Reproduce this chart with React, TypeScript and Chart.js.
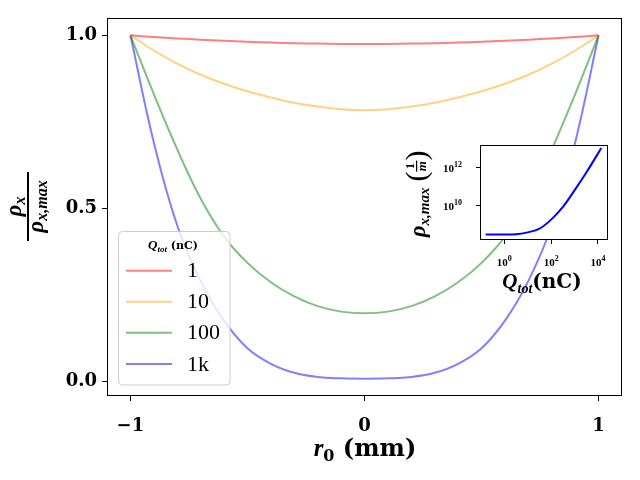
import { useEffect, useRef } from "react";
import Chart from "chart.js/auto";

// main plot: normalised rho_x across r0 for each total charge
const radius = [-1, -0.9, -0.8, -0.7, -0.6, -0.5, -0.4, -0.3, -0.2, -0.1, 0, 0.1, 0.2, 0.3, 0.4, 0.5, 0.6, 0.7, 0.8, 0.9, 1];
const rhoQ1 = [1.0, 0.995, 0.991, 0.987, 0.984, 0.981, 0.979, 0.977, 0.976, 0.975, 0.975, 0.975, 0.976, 0.977, 0.979, 0.981, 0.984, 0.987, 0.991, 0.995, 1.0];
const rhoQ10 = [1.0, 0.956, 0.918, 0.886, 0.86, 0.838, 0.82, 0.805, 0.794, 0.786, 0.783, 0.786, 0.794, 0.805, 0.82, 0.838, 0.86, 0.886, 0.918, 0.956, 1.0];
const rhoQ100 = [1.0, 0.83, 0.67, 0.528, 0.418, 0.342, 0.286, 0.245, 0.217, 0.201, 0.196, 0.201, 0.217, 0.245, 0.286, 0.342, 0.418, 0.528, 0.67, 0.83, 1.0];
const rhoQ1k = [1.0, 0.69, 0.45, 0.29, 0.175, 0.095, 0.05, 0.024, 0.012, 0.008, 0.007, 0.008, 0.012, 0.024, 0.05, 0.095, 0.175, 0.29, 0.45, 0.69, 1.0];
const seriesLabels = ["1", "10", "100", "1k"];
const seriesColors = ["rgba(255,0,0,0.5)", "rgba(255,165,0,0.5)", "rgba(0,128,0,0.5)", "rgba(0,0,255,0.5)"];
const xTicks = [-1, 0, 1];
const yTicks = [0, 0.5, 1];

// inset: rho_x,max against Q_tot (log-log)
const chargeNc = [0.158, 0.32, 1, 3.2, 10, 32, 100, 320, 1000, 3200, 10000, 14100];
const rhoMax = [2.9e8, 2.9e8, 2.9e8, 3.0e8, 3.8e8, 6.0e8, 1.8e9, 8.5e9, 6.3e10, 5.6e11, 5.6e12, 1.12e13];
const insetXTicks = [1, 100, 10000];
const insetYTicks = [1e10, 1e12];

const SERIF = '"DejaVu Serif"';
const MATH = '"Liberation Serif"';

type Run = { text: string; font: string; dy?: number };

function drawRuns(ctx: CanvasRenderingContext2D, runs: Run[], x: number, y: number, align: "left" | "center" | "right") {
  let total = 0;
  for (const r of runs) {
    ctx.font = r.font;
    total += ctx.measureText(r.text).width;
  }
  let cx = align === "center" ? x - total / 2 : align === "right" ? x - total : x;
  ctx.textAlign = "left";
  ctx.textBaseline = "alphabetic";
  for (const r of runs) {
    ctx.font = r.font;
    ctx.fillText(r.text, cx, y + (r.dy || 0));
    cx += ctx.measureText(r.text).width;
  }
  return total;
}

function runsWidth(ctx: CanvasRenderingContext2D, runs: Run[]) {
  let w = 0;
  for (const r of runs) {
    ctx.font = r.font;
    w += ctx.measureText(r.text).width;
  }
  return w;
}

function frame(ctx: CanvasRenderingContext2D, a: any) {
  ctx.strokeStyle = "#000";
  ctx.lineWidth = 1;
  ctx.strokeRect(Math.round(a.left) + 0.5, Math.round(a.top) + 0.5, Math.round(a.right - a.left) - 1, Math.round(a.bottom - a.top) - 1);
}

const mainDecor = {
  id: "mainDecor",
  afterDraw(chart: any) {
    const { ctx, chartArea: a } = chart;
    ctx.save();
    frame(ctx, a);
    ctx.fillStyle = "#000";

    // x title
    drawRuns(
      ctx,
      [
        { text: "r", font: `italic bold 25px ${MATH}` },
        { text: "0", font: `bold 16px ${SERIF}`, dy: 5 },
        { text: " (mm)", font: `bold 24px ${SERIF}` },
      ],
      365,
      456,
      "center"
    );

    // y title: rho_x over rho_x,max, rotated
    ctx.save();
    ctx.translate(28, 206.5);
    ctx.rotate(-Math.PI / 2);
    const num: Run[] = [
      { text: "ρ", font: `italic bold 23px ${MATH}` },
      { text: "x", font: `italic bold 16px ${MATH}`, dy: 4 },
    ];
    const den: Run[] = [
      { text: "ρ", font: `italic bold 23px ${MATH}` },
      { text: "x,max", font: `italic bold 16px ${MATH}`, dy: 4 },
    ];
    drawRuns(ctx, num, 0, -7, "center");
    drawRuns(ctx, den, 0, 15, "center");
    ctx.fillRect(-34.5, -1, 69, 2);
    ctx.restore();

    // legend
    const bx = 118.5, by = 231.5, bw = 111.5, bh = 153.5;
    ctx.beginPath();
    ctx.roundRect(bx, by, bw, bh, 4);
    ctx.fillStyle = "rgba(255,255,255,0.8)";
    ctx.fill();
    ctx.strokeStyle = "#cccccc";
    ctx.lineWidth = 1;
    ctx.stroke();
    ctx.fillStyle = "#000";
    drawRuns(
      ctx,
      [
        { text: "Q", font: `italic bold 13px ${MATH}` },
        { text: "tot", font: `italic bold 9px ${MATH}`, dy: 3 },
        { text: " (nC)", font: `bold 11px ${SERIF}` },
      ],
      173,
      249,
      "center"
    );
    const rowY = [270.7, 301.7, 332.7, 364];
    chart.data.datasets.forEach((ds: any, i: number) => {
      ctx.strokeStyle = ds.borderColor;
      ctx.lineWidth = 2;
      ctx.beginPath();
      ctx.moveTo(126, rowY[i]);
      ctx.lineTo(172, rowY[i]);
      ctx.stroke();
      ctx.fillStyle = "#000";
      ctx.font = `22px ${MATH}`;
      ctx.textAlign = "left";
      ctx.textBaseline = "middle";
      ctx.fillText(ds.label, 187, rowY[i] + 1);
    });
    ctx.restore();
  },
};

const insetDecor = {
  id: "insetDecor",
  beforeDatasetsDraw(chart: any) {
    const { ctx, chartArea: a } = chart;
    ctx.save();
    ctx.fillStyle = "#fff";
    ctx.fillRect(a.left, a.top, a.right - a.left, a.bottom - a.top);
    ctx.restore();
  },
  afterDraw(chart: any) {
    const { ctx, chartArea: a, scales } = chart;
    ctx.save();
    frame(ctx, a);
    ctx.fillStyle = "#000";

    insetXTicks.forEach((v) => {
      const px = scales.x.getPixelForValue(v);
      drawRuns(
        ctx,
        [
          { text: "10", font: `bold 11px ${MATH}` },
          { text: String(Math.round(Math.log10(v))), font: `bold 8px ${MATH}`, dy: -5 },
        ],
        px,
        131,
        "center"
      );
    });
    insetYTicks.forEach((v) => {
      const py = scales.y.getPixelForValue(v);
      drawRuns(
        ctx,
        [
          { text: "10", font: `bold 11px ${MATH}` },
          { text: String(Math.round(Math.log10(v))), font: `bold 8px ${MATH}`, dy: -5 },
        ],
        67,
        py + 4,
        "right"
      );
    });

    // x title
    drawRuns(
      ctx,
      [
        { text: "Q", font: `italic bold 21px ${MATH}` },
        { text: "tot", font: `italic bold 14px ${MATH}`, dy: 5 },
        { text: "(nC)", font: `bold 20px ${SERIF}` },
      ],
      147,
      153,
      "center"
    );

    // y title rotated
    ctx.save();
    ctx.translate(25, 59);
    ctx.rotate(-Math.PI / 2);
    const lab: Run[] = [
      { text: "ρ", font: `italic bold 23px ${MATH}` },
      { text: "x,max", font: `italic bold 15px ${MATH}`, dy: 4 },
    ];
    const labW = runsWidth(ctx, lab);
    ctx.font = `30px ${MATH}`;
    const parW = ctx.measureText("(").width;
    const fracW = 11;
    const total = labW + 6 + parW * 2 + fracW;
    let u = -total / 2;
    drawRuns(ctx, lab, u, 5, "left");
    u += labW + 6;
    ctx.font = `30px ${MATH}`;
    ctx.textAlign = "left";
    ctx.textBaseline = "alphabetic";
    ctx.fillText("(", u, 6);
    u += parW;
    ctx.fillRect(u, -4, fracW, 1.2);
    ctx.font = `bold 12px ${MATH}`;
    ctx.textAlign = "center";
    ctx.fillText("1", u + fracW / 2, -6);
    ctx.font = `italic bold 13px ${MATH}`;
    ctx.fillText("m", u + fracW / 2, 6);
    u += fracW;
    ctx.font = `30px ${MATH}`;
    ctx.textAlign = "left";
    ctx.fillText(")", u, 6);
    ctx.restore();

    ctx.restore();
  },
};

function MainChart() {
  const canvasRef = useRef<HTMLCanvasElement>(null);

  useEffect(() => {
    if (!canvasRef.current) return;
    const values = [rhoQ1, rhoQ10, rhoQ100, rhoQ1k];
    const chart = new Chart(canvasRef.current, {
      type: "line",
      data: {
        datasets: values.map((vals, i) => ({
          label: seriesLabels[i],
          data: radius.map((r, j) => ({ x: r, y: vals[j] })),
          borderColor: seriesColors[i],
          borderWidth: 2,
          pointRadius: 0,
          tension: 0.4,
        })),
      },
      options: {
        animation: false,
        responsive: false,
        devicePixelRatio: 1,
        layout: { padding: { left: 0, top: 18, right: 18, bottom: 0 } },
        plugins: { legend: { display: false }, tooltip: { enabled: false } },
        scales: {
          x: {
            type: "linear",
            min: -1.1,
            max: 1.1,
            afterBuildTicks: (s: any) => {
              s.ticks = xTicks.map((v) => ({ value: v }));
            },
            afterFit: (s: any) => {
              s.height = 84;
            },
            grid: { drawOnChartArea: false, drawTicks: true, tickLength: 5, color: "#000" },
            border: { display: false },
            ticks: {
              color: "#000",
              padding: 15,
              maxRotation: 0,
              font: { family: "DejaVu Serif", size: 18, weight: "bold" },
              callback: (v: any) => (v < 0 ? "\u2212" + Math.abs(v) : String(v)),
            },
          },
          y: {
            type: "linear",
            min: -0.043,
            max: 1.05,
            afterBuildTicks: (s: any) => {
              s.ticks = yTicks.map((v) => ({ value: v }));
            },
            afterFit: (s: any) => {
              s.width = 107;
            },
            grid: { drawOnChartArea: false, drawTicks: true, tickLength: 5, color: "#000" },
            border: { display: false },
            ticks: {
              color: "#000",
              padding: 5,
              font: { family: "DejaVu Serif", size: 18, weight: "bold" },
              callback: (v: any) => Number(v).toFixed(1),
            },
          },
        },
      },
      plugins: [mainDecor],
    });
    return () => chart.destroy();
  }, []);

  return <canvas ref={canvasRef} width={640} height={480} style={{ position: "absolute", left: 0, top: 0 }} />;
}

function InsetChart() {
  const canvasRef = useRef<HTMLCanvasElement>(null);

  useEffect(() => {
    if (!canvasRef.current) return;
    const chart = new Chart(canvasRef.current, {
      type: "line",
      data: {
        datasets: [
          {
            data: chargeNc.map((q, i) => ({ x: q, y: rhoMax[i] })),
            borderColor: "#0000ff",
            borderWidth: 2,
            pointRadius: 0,
            cubicInterpolationMode: "monotone" as const,
          },
        ],
      },
      options: {
        animation: false,
        responsive: false,
        devicePixelRatio: 1,
        layout: { padding: { left: 0, top: 10, right: 12, bottom: 0 } },
        plugins: { legend: { display: false }, tooltip: { enabled: false } },
        scales: {
          x: {
            type: "logarithmic",
            min: 0.091,
            max: 27000,
            afterBuildTicks: (s: any) => {
              s.ticks = insetXTicks.map((v) => ({ value: v }));
            },
            afterFit: (s: any) => {
              s.height = 60;
            },
            grid: { drawOnChartArea: false, drawTicks: true, tickLength: 4, color: "#000" },
            border: { display: false },
            ticks: { display: false },
          },
          y: {
            type: "logarithmic",
            min: 1.5e8,
            max: 1.6e13,
            afterBuildTicks: (s: any) => {
              s.ticks = insetYTicks.map((v) => ({ value: v }));
            },
            afterFit: (s: any) => {
              s.width = 85;
            },
            grid: { drawOnChartArea: false, drawTicks: true, tickLength: 4, color: "#000" },
            border: { display: false },
            ticks: { display: false },
          },
        },
      },
      plugins: [insetDecor],
    });
    return () => chart.destroy();
  }, []);

  return <canvas ref={canvasRef} width={225} height={165} style={{ position: "absolute", left: 395, top: 135 }} />;
}

export default function App() {
  return (
    <div style={{ position: "fixed", left: 0, top: 0, width: 640, height: 480, background: "#fff" }}>
      <MainChart />
      <InsetChart />
    </div>
  );
}
